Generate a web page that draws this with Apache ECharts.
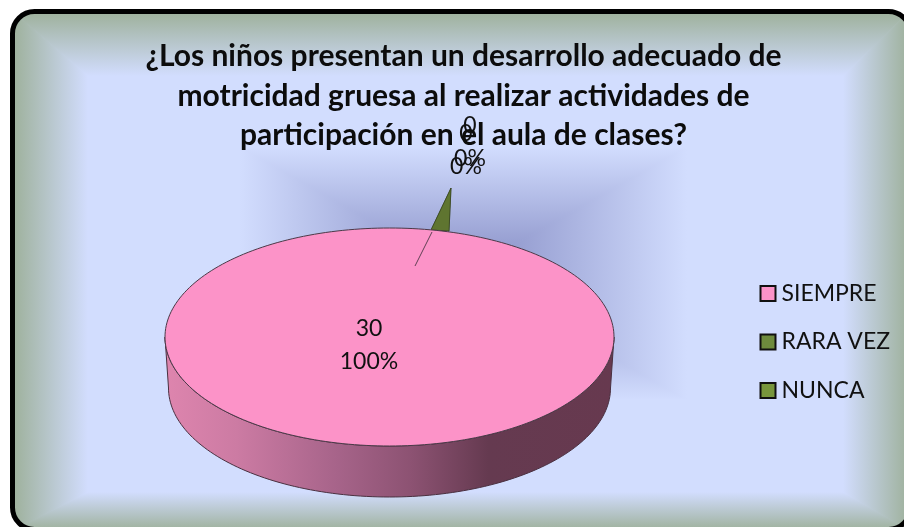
<!DOCTYPE html>
<html><head><meta charset="utf-8">
<style>html,body{margin:0;padding:0;background:#fff}#c{width:904px;height:527px}</style>
<script src="https://cdn.jsdelivr.net/npm/echarts@6/dist/echarts.min.js"></script>
</head><body><div id="c"></div>
<script>
const titleLines = ['¿Los niños presentan un desarrollo adecuado de','motricidad gruesa al realizar actividades de','participación en el aula de clases?'];
const categories = ['SIEMPRE','RARA VEZ','NUNCA'];
const values = [30,0,0];
const colors = ['#FC93C8','#6E8B3D','#78963C'];

const FONT = 'Lato';
const total = values.reduce((a,b)=>a+b,0);
const P = {cx:389.5, cy:337, rx:224.5, ry:109, bcy:388, brx:221, bry:109};
const START = -Math.PI/2 + 0.34;
const WEDGE_FILL = '#5F7530';
const ZERO_LABEL = {1:[76.5,-187],2:[80.5,-195]};

const chart = echarts.init(document.getElementById('c'),null,{renderer:'canvas'});

// rectangular "path" gradient: four mitred trapezoids
function rectGradient(o,i,edge,inner,z){
  const lg=(x,y,x2,y2)=>({type:'linear',global:true,x,y,x2,y2,colorStops:[{offset:0,color:edge},{offset:1,color:inner}]});
  return [
    {pts:[[o[0],o[1]],[o[2],o[1]],[i[2],i[1]],[i[0],i[1]]],f:lg(0,o[1],0,i[1])},
    {pts:[[o[0],o[3]],[o[2],o[3]],[i[2],i[3]],[i[0],i[3]]],f:lg(0,o[3],0,i[3])},
    {pts:[[o[0],o[1]],[o[0],o[3]],[i[0],i[3]],[i[0],i[1]]],f:lg(o[0],0,i[0],0)},
    {pts:[[o[2],o[1]],[o[2],o[3]],[i[2],i[3]],[i[2],i[1]]],f:lg(o[2],0,i[2],0)}
  ].map(t=>({type:'polygon',z,silent:true,shape:{points:t.pts},style:{fill:t.f,stroke:t.f,lineWidth:1}}));
}
const BASE='#D2DDFE', EDGE='#9DB09A';
const graphics=[
  {type:'rect',z:-10,silent:true,shape:{x:0,y:0,width:904,height:527},style:{fill:BASE}},
  ...rectGradient([240,147,687,400],[463,273,464,273],BASE,'#858CC4',-9),
  ...rectGradient([12,11,910,531],[88,76,843,492],EDGE,BASE,-8),
  {type:'rect',z:-7,silent:true,shape:{x:-2.5,y:-3.5,width:928,height:550,r:37},style:{fill:'none',stroke:'#fff',lineWidth:30}},
  {type:'rect',z:-6,silent:true,shape:{x:12.5,y:11.5,width:898,height:518,r:22},style:{fill:'none',stroke:'#000',lineWidth:5}}
];

function arcPts(cx,cy,rx,ry,a0,a1,n){
  const pts=[];
  for(let k=0;k<=n;k++){const a=a0+(a1-a0)*k/n;pts.push([cx+rx*Math.cos(a),cy+ry*Math.sin(a)]);}
  return pts;
}
function renderSlice(idx){
  return function(params,api){
    const v=api.value(0), share=v/total;
    const lbl=v+'\n'+Math.round(share*100)+'%';
    const children=[];
    if(share>0){
      const a0=START,a1=START+share*2*Math.PI;
      const top=arcPts(P.cx,P.cy,P.rx,P.ry,a0,a1,240);
      const front=arcPts(P.cx,P.cy,P.rx,P.ry,0,Math.PI,120);
      const back=arcPts(P.cx,P.bcy,P.brx,P.bry,Math.PI,0,120);
      children.push({type:'polygon',shape:{points:front.concat(back)},style:{
        fill:{type:'linear',global:true,x:P.cx-P.rx,y:0,x2:P.cx+P.rx,y2:0,colorStops:[
          {offset:0,color:'#DE85AE'},{offset:0.16,color:'#CC7BA3'},{offset:0.38,color:'#A7648A'},
          {offset:0.55,color:'#8C5272'},{offset:0.72,color:'#653A50'},{offset:1,color:'#67394F'}]},
        stroke:'#4A3040',lineWidth:1}});
      children.push({type:'polygon',shape:{points:top},style:{fill:colors[idx],stroke:'#4B3A48',lineWidth:1}});
      children.push({type:'text',style:{text:lbl,x:369,y:345.5,align:'center',verticalAlign:'middle',
        font:'23px '+FONT,lineHeight:33,fill:'#111'}});
    } else {
      const tipDx=61.5, tipDy=-149, baseL=[41.5,-107], baseR=[59.5,-106];
      const off=ZERO_LABEL[idx];
      children.push({type:'polygon',shape:{points:[
        [P.cx+baseL[0],P.cy+baseL[1]],[P.cx+tipDx,P.cy+tipDy],[P.cx+baseR[0],P.cy+baseR[1]]]},
        style:{fill:WEDGE_FILL,stroke:'#2f3a1a',lineWidth:0.6}});
      children.push({type:'text',z2:20,style:{text:lbl,x:P.cx+off[0],y:P.cy+off[1],align:'center',verticalAlign:'middle',
        font:'23px '+FONT,lineHeight:33,fill:'#111'}});
    }
    return {type:'group',children};
  };
}
const series=categories.map((name,i)=>({
  type:'custom',name,coordinateSystem:'none',silent:true,clip:false,
  z: i===0?3:2,
  itemStyle:{color:colors[i]},
  data:[[values[i]]],
  renderItem:renderSlice(i)
}));
// slice boundary line over the top face
series.push({type:'custom',coordinateSystem:'none',silent:true,z:4,data:[[0]],
  renderItem:()=>({type:'line',shape:{x1:415,y1:266,x2:432,y2:232},style:{stroke:'rgba(70,50,65,.85)',lineWidth:1}})});

chart.setOption({
  animation:false,
  graphic:{elements:graphics},
  title:{text:titleLines.join('\n'),left:458.5,top:32,textAlign:'center',
    textStyle:{fontFamily:FONT,fontWeight:'bold',fontSize:30,lineHeight:39.5,color:'#0c0c0c'}},
  legend:{orient:'vertical',left:754.5,top:277,icon:'rect',itemWidth:15,itemHeight:15,itemGap:25.5,
    data:categories,selectedMode:false,
    itemStyle:{borderColor:'#111',borderWidth:2},
    textStyle:{fontFamily:FONT,fontSize:23,color:'#111',padding:[0,0,0,1]}},
  series
});
</script></body></html>
